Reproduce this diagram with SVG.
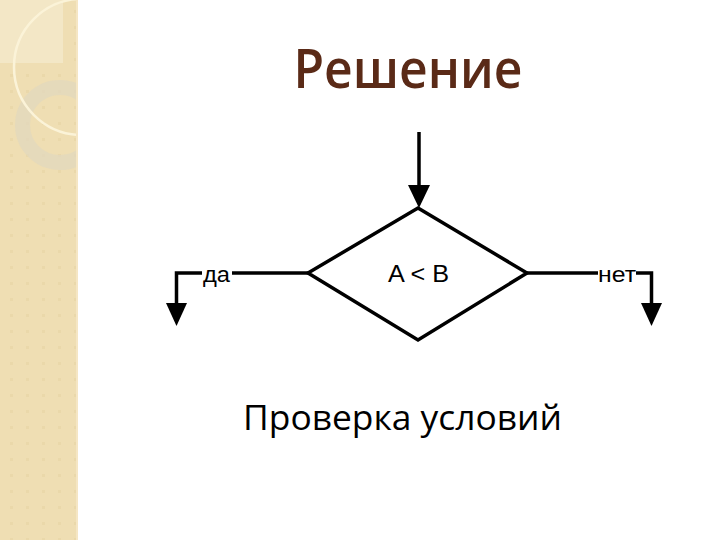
<svg xmlns="http://www.w3.org/2000/svg" width="720" height="540" viewBox="0 0 720 540">
<style>
.ln{fill:none;stroke:#000;stroke-width:3.5;stroke-linejoin:miter}
.lbl{font-family:"Liberation Sans",Arial,sans-serif;fill:#000}
.head{fill:#000}
</style>
<defs>
<pattern id="dots" width="16" height="16" patternUnits="userSpaceOnUse">
<rect x="10" y="10" width="3" height="3" fill="#e6d3a4" opacity="0.6"/>
</pattern>
<clipPath id="strip"><rect x="0" y="0" width="78" height="540"/></clipPath>
</defs>
<rect width="720" height="540" fill="#ffffff"/>
<g id="background">
<rect x="0" y="0" width="78" height="540" fill="#efdeb3"/>
<rect x="0" y="0" width="78" height="540" fill="url(#dots)"/>
<rect x="0" y="0" width="63" height="63" fill="#f3e7c6"/>
<g clip-path="url(#strip)">
<circle cx="60" cy="125" r="37.5" fill="none" stroke="#e2d8bd" stroke-width="15" opacity="0.75"/>
<circle cx="82" cy="67" r="68" fill="none" stroke="#fbf3d8" stroke-width="2.5"/>
</g>
<rect x="76" y="0" width="2" height="540" fill="#f5e6c4"/>
</g>
<text id="title" x="408" y="88" text-anchor="middle" font-family="'Open Sans','DejaVu Sans',sans-serif" font-weight="600" font-size="54" fill="#5a2a17" textLength="229" lengthAdjust="spacingAndGlyphs">Решение</text>
<g id="connectors">
<line class="ln" x1="419" y1="132" x2="419" y2="188" stroke-width="4"/>
<polygon class="head" points="408,185 430,185 419,208"/>
<polyline class="ln" points="308,273 232,273"/>
<polyline class="ln" points="202,273 176.5,273 176.5,305"/>
<polygon class="head" points="166,303 187,303 176.5,326"/>
<text class="lbl" x="203" y="282" font-size="22" textLength="27" lengthAdjust="spacingAndGlyphs">да</text>
<polyline class="ln" points="527,273 598,273"/>
<polyline class="ln" points="636,273 651.5,273 651.5,305"/>
<polygon class="head" points="641,303 662,303 651.5,326"/>
<text class="lbl" x="598" y="282" font-size="22" textLength="38" lengthAdjust="spacingAndGlyphs">нет</text>
</g>
<g id="decision">
<polygon class="ln" points="418,208 527,273 418,340 308,273"/>
<text class="lbl" x="388" y="282" font-size="23.5" textLength="61" lengthAdjust="spacingAndGlyphs">A &lt; B</text>
</g>
<text id="caption" x="402.5" y="430" text-anchor="middle" font-family="'Open Sans','DejaVu Sans',sans-serif" font-size="34" fill="#000" textLength="319" lengthAdjust="spacingAndGlyphs">Проверка условий</text>
</svg>
